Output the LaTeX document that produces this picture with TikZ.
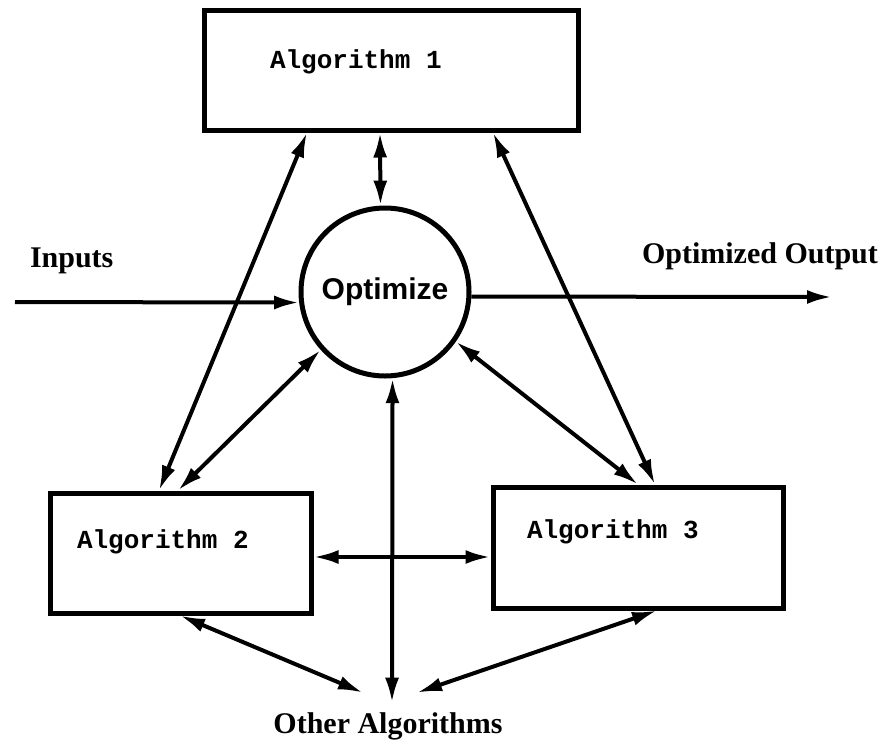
\documentclass[tikz,border=0pt]{standalone}
\usepackage{fontspec}
\setmainfont{Liberation Serif}
\newfontfamily\algtextfont{Liberation Mono}
\newfontfamily\opttextfont{Liberation Sans}
\usetikzlibrary{arrows.meta}

\begin{document}
\begin{tikzpicture}[
 x=1pt, y=-1pt,
 line width=4pt,
 >={Latex[length=25pt,width=14pt]},
 algbox/.style={draw=black,rectangle,line width=5pt},
 core/.style={draw=black,circle,line width=5pt,minimum size=168pt,inner sep=0pt,
   font=\opttextfont\bfseries\fontsize{30}{36}\selectfont},
 algname/.style={anchor=base west,inner sep=0pt,font=\algtextfont\bfseries\fontsize{26}{30}\selectfont},
 caption/.style={inner sep=0pt,font=\bfseries\fontsize{30}{36}\selectfont}
]
\useasboundingbox (0,0) rectangle (883,753);
\node (alg-1) [algbox,minimum width=374pt,minimum height=120pt] at (391,70) {};
\node (alg-2) [algbox,minimum width=261pt,minimum height=120pt] at (180.5,553) {};
\node (alg-3) [algbox,minimum width=290pt,minimum height=121pt] at (638,547.5) {};
\node (optimize) [core] at (385,292) {Optimize};
\node (alg-1-name) [algname] at (268,68) {Algorithm 1};
\node (alg-2-name) [algname] at (75,548) {Algorithm 2};
\node (alg-3-name) [algname] at (525,538) {Algorithm 3};
\node (inputs) [caption,anchor=base west] at (28,267) {Inputs};
\node (optimized-output) [caption,anchor=base west] at (640,263) {Optimized Output};
\node (other-algorithms) [caption,anchor=base] at (388,733) {Other Algorithms};
\coordinate (input-start) at (15,302);
\coordinate (output-end) at (832,297);
\draw[->] (input-start) -- (optimize.187);
\draw[->] (optimize.357) -- (output-end);
\draw[<->] ([xshift=-11pt]alg-1.south) -- (optimize.93);
\draw[<->] ([xshift=-84pt]alg-1.south) -- ([xshift=-21.5pt]alg-2.north);
\draw[<->] ([xshift=102pt]alg-1.south) -- ([xshift=17pt]alg-3.north);
\draw[<->] (optimize.222) -- ([xshift=-2.5pt]alg-2.north);
\draw[<->] (optimize.325) -- (alg-3.north);
\draw[<->] ([yshift=-4pt]alg-2.east) -- ([yshift=-9.5pt]alg-3.west);
\draw[<->] (optimize.275) -- ([xshift=4pt,yshift=7.5pt]other-algorithms.north);
\draw[<->] ([xshift=-0.5pt]alg-2.south) -- ([xshift=-25pt,yshift=17.5pt]other-algorithms.north);
\draw[<->] ([xshift=19pt]alg-3.south) -- ([xshift=29pt,yshift=17.5pt]other-algorithms.north);
\end{tikzpicture}
\end{document}
